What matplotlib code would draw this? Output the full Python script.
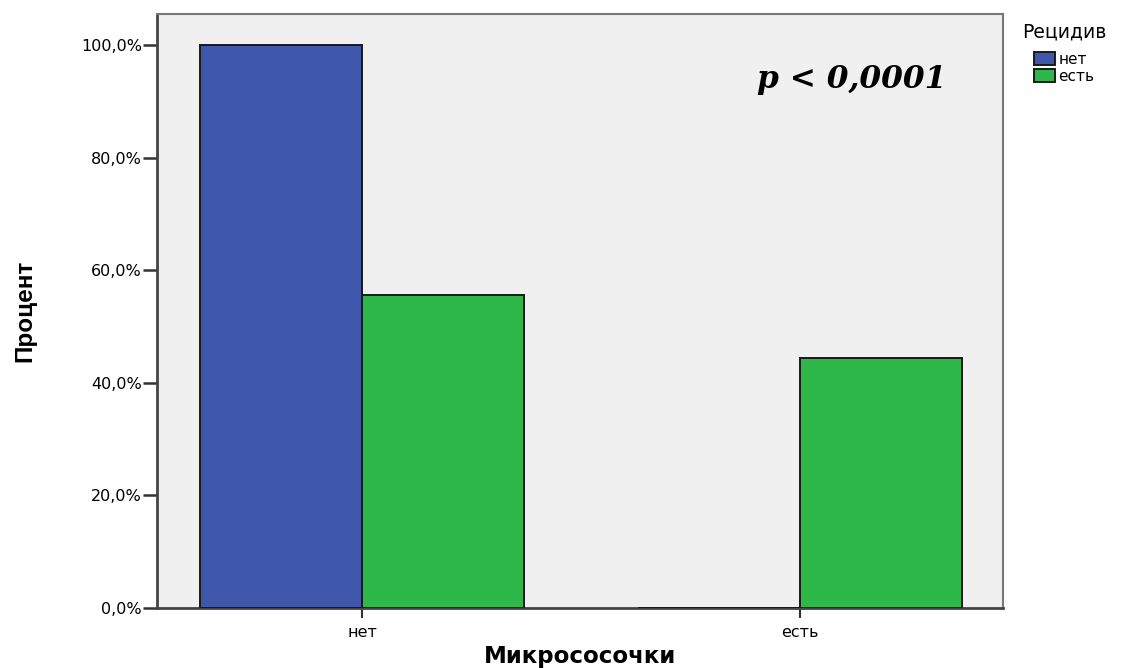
import numpy as np
import matplotlib.pyplot as plt
from matplotlib.ticker import FuncFormatter

categories = ['нет', 'есть']
series_names = ['нет', 'есть']
recur_no = [100.0, 0.0]
recur_yes = [55.6, 44.4]
yticks = [0, 20, 40, 60, 80, 100]

colors = ['#3E57AB', '#2EB84A']

plt.rcParams['font.family'] = ['DejaVu Sans']

fig = plt.figure(figsize=(11.38, 6.68), dpi=100)
ax = fig.add_axes([0.138, 0.09, 0.743, 0.889])
ax.set_facecolor('#F0F0F0')

x = np.arange(len(categories))
w = 0.37
ax.bar(x - w / 2, recur_no, w, color=colors[0], edgecolor='#1a1a1a', linewidth=1.4,
       label=series_names[0], zorder=3)
ax.bar(x + w / 2, recur_yes, w, color=colors[1], edgecolor='#1a1a1a', linewidth=1.4,
       label=series_names[1], zorder=3)

ax.set_xlim(-0.468, 1.463)
ax.set_ylim(0, 105.5)
ax.set_xticks(x)
ax.set_xticklabels(categories, fontsize=11.5)
ax.set_yticks(yticks)
ax.yaxis.set_major_formatter(FuncFormatter(lambda v, p: f'{v:.1f}%'.replace('.', ',')))
ax.tick_params(axis='y', labelsize=11.5, length=10, width=1.8, color='#333333', pad=1)
ax.tick_params(axis='x', length=7, width=1.5, color='#333333', pad=5)

for side in ['left', 'bottom']:
    ax.spines[side].set_color('#444444')
    ax.spines[side].set_linewidth(2)
for side in ['top', 'right']:
    ax.spines[side].set_color('#777777')
    ax.spines[side].set_linewidth(1.5)

ax.set_ylabel('Процент', fontsize=17.5, fontweight='heavy', labelpad=32,
              family=['Liberation Sans', 'DejaVu Sans'])
ax.set_xlabel('Микрососочки', fontsize=16.5, fontweight='bold', labelpad=4)

ax.text(0.709, 0.889, 'p < 0,0001', transform=ax.transAxes, fontsize=22.5,
        fontweight='bold', fontstyle='italic', family=['DejaVu Serif'],
        ha='left', va='center')

fig.text(1022 / 1138, 1 - 32 / 668, 'Рецидив', fontsize=13.5, ha='left', va='center')
leg = ax.legend(loc='upper left', bbox_to_anchor=(1034 / 1138, 1 - 52 / 668),
                bbox_transform=fig.transFigure, frameon=False, fontsize=11,
                handlelength=1.35, handleheight=0.9, handletextpad=0.25,
                labelspacing=0.12, borderaxespad=0, borderpad=0)

fig.savefig('out.png', dpi=100, facecolor='white')
